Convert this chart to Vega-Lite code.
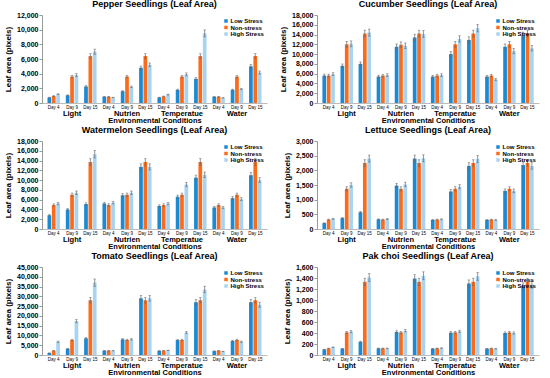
{
 "$schema": "https://vega.github.io/schema/vega-lite/v6.json",
 "padding": {"left": 4, "top": 0, "right": 2, "bottom": 0},
 "columns": 2,
 "spacing": {"row": 2, "column": 12},
 "resolve": {"legend": {"color": "independent"}},
 "datasets": {
  "pepper": [
   {"k":"Light|Day 4","s":"Low Stress","v":750,"e":40},{"k":"Light|Day 4","s":"Non-stress","v":950,"e":50},{"k":"Light|Day 4","s":"High Stress","v":1200,"e":60},
   {"k":"Light|Day 9","s":"Low Stress","v":1050,"e":60},{"k":"Light|Day 9","s":"Non-stress","v":3600,"e":180},{"k":"Light|Day 9","s":"High Stress","v":3800,"e":200},
   {"k":"Light|Day 15","s":"Low Stress","v":2250,"e":110},{"k":"Light|Day 15","s":"Non-stress","v":6400,"e":320},{"k":"Light|Day 15","s":"High Stress","v":7000,"e":350},
   {"k":"Nutrien|Day 4","s":"Low Stress","v":850,"e":45},{"k":"Nutrien|Day 4","s":"Non-stress","v":850,"e":45},{"k":"Nutrien|Day 4","s":"High Stress","v":750,"e":40},
   {"k":"Nutrien|Day 9","s":"Low Stress","v":1600,"e":80},{"k":"Nutrien|Day 9","s":"Non-stress","v":3600,"e":180},{"k":"Nutrien|Day 9","s":"High Stress","v":2200,"e":110},
   {"k":"Nutrien|Day 15","s":"Low Stress","v":4800,"e":240},{"k":"Nutrien|Day 15","s":"Non-stress","v":6400,"e":320},{"k":"Nutrien|Day 15","s":"High Stress","v":5200,"e":260},
   {"k":"Temperatue|Day 4","s":"Low Stress","v":750,"e":40},{"k":"Temperatue|Day 4","s":"Non-stress","v":900,"e":45},{"k":"Temperatue|Day 4","s":"High Stress","v":1150,"e":60},
   {"k":"Temperatue|Day 9","s":"Low Stress","v":1800,"e":90},{"k":"Temperatue|Day 9","s":"Non-stress","v":3600,"e":180},{"k":"Temperatue|Day 9","s":"High Stress","v":3900,"e":200},
   {"k":"Temperatue|Day 15","s":"Low Stress","v":3300,"e":160},{"k":"Temperatue|Day 15","s":"Non-stress","v":6400,"e":320},{"k":"Temperatue|Day 15","s":"High Stress","v":9500,"e":470},
   {"k":"Water|Day 4","s":"Low Stress","v":850,"e":45},{"k":"Water|Day 4","s":"Non-stress","v":850,"e":45},{"k":"Water|Day 4","s":"High Stress","v":700,"e":35},
   {"k":"Water|Day 9","s":"Low Stress","v":1800,"e":90},{"k":"Water|Day 9","s":"Non-stress","v":3600,"e":180},{"k":"Water|Day 9","s":"High Stress","v":1900,"e":95},
   {"k":"Water|Day 15","s":"Low Stress","v":5000,"e":250},{"k":"Water|Day 15","s":"Non-stress","v":6400,"e":320},{"k":"Water|Day 15","s":"High Stress","v":4150,"e":210}
  ],
  "cucumber": [
   {"k":"Light|Day 4","s":"Low Stress","v":5600,"e":300},{"k":"Light|Day 4","s":"Non-stress","v":5600,"e":300},{"k":"Light|Day 4","s":"High Stress","v":5900,"e":300},
   {"k":"Light|Day 9","s":"Low Stress","v":7600,"e":380},{"k":"Light|Day 9","s":"Non-stress","v":12000,"e":600},{"k":"Light|Day 9","s":"High Stress","v":12100,"e":600},
   {"k":"Light|Day 15","s":"Low Stress","v":8000,"e":400},{"k":"Light|Day 15","s":"Non-stress","v":14200,"e":700},{"k":"Light|Day 15","s":"High Stress","v":14400,"e":720},
   {"k":"Nutrien|Day 4","s":"Low Stress","v":5400,"e":270},{"k":"Nutrien|Day 4","s":"Non-stress","v":5600,"e":280},{"k":"Nutrien|Day 4","s":"High Stress","v":5700,"e":280},
   {"k":"Nutrien|Day 9","s":"Low Stress","v":11500,"e":570},{"k":"Nutrien|Day 9","s":"Non-stress","v":11900,"e":600},{"k":"Nutrien|Day 9","s":"High Stress","v":11700,"e":580},
   {"k":"Nutrien|Day 15","s":"Low Stress","v":13400,"e":670},{"k":"Nutrien|Day 15","s":"Non-stress","v":14200,"e":700},{"k":"Nutrien|Day 15","s":"High Stress","v":14100,"e":700},
   {"k":"Temperatue|Day 4","s":"Low Stress","v":5400,"e":270},{"k":"Temperatue|Day 4","s":"Non-stress","v":5600,"e":280},{"k":"Temperatue|Day 4","s":"High Stress","v":5700,"e":280},
   {"k":"Temperatue|Day 9","s":"Low Stress","v":10000,"e":500},{"k":"Temperatue|Day 9","s":"Non-stress","v":12000,"e":600},{"k":"Temperatue|Day 9","s":"High Stress","v":13100,"e":650},
   {"k":"Temperatue|Day 15","s":"Low Stress","v":12900,"e":640},{"k":"Temperatue|Day 15","s":"Non-stress","v":14200,"e":700},{"k":"Temperatue|Day 15","s":"High Stress","v":15300,"e":760},
   {"k":"Water|Day 4","s":"Low Stress","v":5400,"e":270},{"k":"Water|Day 4","s":"Non-stress","v":5600,"e":280},{"k":"Water|Day 4","s":"High Stress","v":4800,"e":240},
   {"k":"Water|Day 9","s":"Low Stress","v":11500,"e":570},{"k":"Water|Day 9","s":"Non-stress","v":12000,"e":600},{"k":"Water|Day 9","s":"High Stress","v":10600,"e":530},
   {"k":"Water|Day 15","s":"Low Stress","v":13800,"e":690},{"k":"Water|Day 15","s":"Non-stress","v":14200,"e":700},{"k":"Water|Day 15","s":"High Stress","v":11200,"e":560}
  ],
  "watermelon": [
   {"k":"Light|Day 4","s":"Low Stress","v":2800,"e":140},{"k":"Light|Day 4","s":"Non-stress","v":4900,"e":250},{"k":"Light|Day 4","s":"High Stress","v":5200,"e":260},
   {"k":"Light|Day 9","s":"Low Stress","v":4000,"e":200},{"k":"Light|Day 9","s":"Non-stress","v":7000,"e":350},{"k":"Light|Day 9","s":"High Stress","v":7400,"e":370},
   {"k":"Light|Day 15","s":"Low Stress","v":5100,"e":250},{"k":"Light|Day 15","s":"Non-stress","v":13700,"e":680},{"k":"Light|Day 15","s":"High Stress","v":15300,"e":760},
   {"k":"Nutrien|Day 4","s":"Low Stress","v":5200,"e":260},{"k":"Nutrien|Day 4","s":"Non-stress","v":4900,"e":250},{"k":"Nutrien|Day 4","s":"High Stress","v":5400,"e":270},
   {"k":"Nutrien|Day 9","s":"Low Stress","v":6900,"e":340},{"k":"Nutrien|Day 9","s":"Non-stress","v":7000,"e":350},{"k":"Nutrien|Day 9","s":"High Stress","v":7400,"e":370},
   {"k":"Nutrien|Day 15","s":"Low Stress","v":12700,"e":630},{"k":"Nutrien|Day 15","s":"Non-stress","v":13700,"e":680},{"k":"Nutrien|Day 15","s":"High Stress","v":12700,"e":630},
   {"k":"Temperatue|Day 4","s":"Low Stress","v":4700,"e":230},{"k":"Temperatue|Day 4","s":"Non-stress","v":4900,"e":250},{"k":"Temperatue|Day 4","s":"High Stress","v":5200,"e":260},
   {"k":"Temperatue|Day 9","s":"Low Stress","v":6600,"e":330},{"k":"Temperatue|Day 9","s":"Non-stress","v":7000,"e":350},{"k":"Temperatue|Day 9","s":"High Stress","v":9100,"e":450},
   {"k":"Temperatue|Day 15","s":"Low Stress","v":10500,"e":520},{"k":"Temperatue|Day 15","s":"Non-stress","v":13700,"e":680},{"k":"Temperatue|Day 15","s":"High Stress","v":11100,"e":550},
   {"k":"Water|Day 4","s":"Low Stress","v":4400,"e":220},{"k":"Water|Day 4","s":"Non-stress","v":4900,"e":250},{"k":"Water|Day 4","s":"High Stress","v":4400,"e":220},
   {"k":"Water|Day 9","s":"Low Stress","v":6300,"e":310},{"k":"Water|Day 9","s":"Non-stress","v":7000,"e":350},{"k":"Water|Day 9","s":"High Stress","v":6100,"e":300},
   {"k":"Water|Day 15","s":"Low Stress","v":11000,"e":550},{"k":"Water|Day 15","s":"Non-stress","v":13700,"e":680},{"k":"Water|Day 15","s":"High Stress","v":10000,"e":500}
  ],
  "lettuce": [
   {"k":"Light|Day 4","s":"Low Stress","v":200,"e":10},{"k":"Light|Day 4","s":"Non-stress","v":320,"e":16},{"k":"Light|Day 4","s":"High Stress","v":350,"e":18},
   {"k":"Light|Day 9","s":"Low Stress","v":370,"e":20},{"k":"Light|Day 9","s":"Non-stress","v":1370,"e":70},{"k":"Light|Day 9","s":"High Stress","v":1500,"e":75},
   {"k":"Light|Day 15","s":"Low Stress","v":570,"e":30},{"k":"Light|Day 15","s":"Non-stress","v":2250,"e":110},{"k":"Light|Day 15","s":"High Stress","v":2400,"e":120},
   {"k":"Nutrien|Day 4","s":"Low Stress","v":330,"e":16},{"k":"Nutrien|Day 4","s":"Non-stress","v":320,"e":16},{"k":"Nutrien|Day 4","s":"High Stress","v":340,"e":17},
   {"k":"Nutrien|Day 9","s":"Low Stress","v":1480,"e":75},{"k":"Nutrien|Day 9","s":"Non-stress","v":1370,"e":70},{"k":"Nutrien|Day 9","s":"High Stress","v":1520,"e":75},
   {"k":"Nutrien|Day 15","s":"Low Stress","v":2400,"e":120},{"k":"Nutrien|Day 15","s":"Non-stress","v":2250,"e":110},{"k":"Nutrien|Day 15","s":"High Stress","v":2410,"e":120},
   {"k":"Temperatue|Day 4","s":"Low Stress","v":310,"e":15},{"k":"Temperatue|Day 4","s":"Non-stress","v":320,"e":16},{"k":"Temperatue|Day 4","s":"High Stress","v":330,"e":16},
   {"k":"Temperatue|Day 9","s":"Low Stress","v":1280,"e":65},{"k":"Temperatue|Day 9","s":"Non-stress","v":1370,"e":70},{"k":"Temperatue|Day 9","s":"High Stress","v":1440,"e":70},
   {"k":"Temperatue|Day 15","s":"Low Stress","v":2150,"e":110},{"k":"Temperatue|Day 15","s":"Non-stress","v":2250,"e":110},{"k":"Temperatue|Day 15","s":"High Stress","v":2390,"e":120},
   {"k":"Water|Day 4","s":"Low Stress","v":310,"e":15},{"k":"Water|Day 4","s":"Non-stress","v":320,"e":16},{"k":"Water|Day 4","s":"High Stress","v":310,"e":15},
   {"k":"Water|Day 9","s":"Low Stress","v":1300,"e":65},{"k":"Water|Day 9","s":"Non-stress","v":1370,"e":70},{"k":"Water|Day 9","s":"High Stress","v":1300,"e":65},
   {"k":"Water|Day 15","s":"Low Stress","v":2180,"e":110},{"k":"Water|Day 15","s":"Non-stress","v":2250,"e":110},{"k":"Water|Day 15","s":"High Stress","v":2150,"e":110}
  ],
  "tomato": [
   {"k":"Light|Day 4","s":"Low Stress","v":1000,"e":50},{"k":"Light|Day 4","s":"Non-stress","v":2200,"e":110},{"k":"Light|Day 4","s":"High Stress","v":6800,"e":340},
   {"k":"Light|Day 9","s":"Low Stress","v":3200,"e":160},{"k":"Light|Day 9","s":"Non-stress","v":7700,"e":380},{"k":"Light|Day 9","s":"High Stress","v":17300,"e":860},
   {"k":"Light|Day 15","s":"Low Stress","v":8500,"e":420},{"k":"Light|Day 15","s":"Non-stress","v":28000,"e":1400},{"k":"Light|Day 15","s":"High Stress","v":37000,"e":1850},
   {"k":"Nutrien|Day 4","s":"Low Stress","v":2200,"e":110},{"k":"Nutrien|Day 4","s":"Non-stress","v":2200,"e":110},{"k":"Nutrien|Day 4","s":"High Stress","v":2200,"e":110},
   {"k":"Nutrien|Day 9","s":"Low Stress","v":8000,"e":400},{"k":"Nutrien|Day 9","s":"Non-stress","v":7700,"e":380},{"k":"Nutrien|Day 9","s":"High Stress","v":8000,"e":400},
   {"k":"Nutrien|Day 15","s":"Low Stress","v":29000,"e":1450},{"k":"Nutrien|Day 15","s":"Non-stress","v":28000,"e":1400},{"k":"Nutrien|Day 15","s":"High Stress","v":29000,"e":1450},
   {"k":"Temperatue|Day 4","s":"Low Stress","v":2100,"e":100},{"k":"Temperatue|Day 4","s":"Non-stress","v":2200,"e":110},{"k":"Temperatue|Day 4","s":"High Stress","v":2400,"e":120},
   {"k":"Temperatue|Day 9","s":"Low Stress","v":7600,"e":380},{"k":"Temperatue|Day 9","s":"Non-stress","v":7700,"e":380},{"k":"Temperatue|Day 9","s":"High Stress","v":11500,"e":570},
   {"k":"Temperatue|Day 15","s":"Low Stress","v":27000,"e":1350},{"k":"Temperatue|Day 15","s":"Non-stress","v":28000,"e":1400},{"k":"Temperatue|Day 15","s":"High Stress","v":33500,"e":1670},
   {"k":"Water|Day 4","s":"Low Stress","v":2000,"e":100},{"k":"Water|Day 4","s":"Non-stress","v":2200,"e":110},{"k":"Water|Day 4","s":"High Stress","v":1800,"e":90},
   {"k":"Water|Day 9","s":"Low Stress","v":7200,"e":360},{"k":"Water|Day 9","s":"Non-stress","v":7700,"e":380},{"k":"Water|Day 9","s":"High Stress","v":6800,"e":340},
   {"k":"Water|Day 15","s":"Low Stress","v":27000,"e":1350},{"k":"Water|Day 15","s":"Non-stress","v":28000,"e":1400},{"k":"Water|Day 15","s":"High Stress","v":25700,"e":1280}
  ],
  "pakchoi": [
   {"k":"Light|Day 4","s":"Low Stress","v":100,"e":5},{"k":"Light|Day 4","s":"Non-stress","v":120,"e":6},{"k":"Light|Day 4","s":"High Stress","v":140,"e":7},
   {"k":"Light|Day 9","s":"Low Stress","v":115,"e":6},{"k":"Light|Day 9","s":"Non-stress","v":410,"e":20},{"k":"Light|Day 9","s":"High Stress","v":425,"e":21},
   {"k":"Light|Day 15","s":"Low Stress","v":240,"e":12},{"k":"Light|Day 15","s":"Non-stress","v":1330,"e":66},{"k":"Light|Day 15","s":"High Stress","v":1410,"e":70},
   {"k":"Nutrien|Day 4","s":"Low Stress","v":120,"e":6},{"k":"Nutrien|Day 4","s":"Non-stress","v":120,"e":6},{"k":"Nutrien|Day 4","s":"High Stress","v":120,"e":6},
   {"k":"Nutrien|Day 9","s":"Low Stress","v":420,"e":21},{"k":"Nutrien|Day 9","s":"Non-stress","v":410,"e":20},{"k":"Nutrien|Day 9","s":"High Stress","v":440,"e":22},
   {"k":"Nutrien|Day 15","s":"Low Stress","v":1390,"e":70},{"k":"Nutrien|Day 15","s":"Non-stress","v":1330,"e":66},{"k":"Nutrien|Day 15","s":"High Stress","v":1440,"e":72},
   {"k":"Temperatue|Day 4","s":"Low Stress","v":115,"e":6},{"k":"Temperatue|Day 4","s":"Non-stress","v":120,"e":6},{"k":"Temperatue|Day 4","s":"High Stress","v":125,"e":6},
   {"k":"Temperatue|Day 9","s":"Low Stress","v":405,"e":20},{"k":"Temperatue|Day 9","s":"Non-stress","v":410,"e":20},{"k":"Temperatue|Day 9","s":"High Stress","v":430,"e":21},
   {"k":"Temperatue|Day 15","s":"Low Stress","v":1300,"e":65},{"k":"Temperatue|Day 15","s":"Non-stress","v":1330,"e":66},{"k":"Temperatue|Day 15","s":"High Stress","v":1430,"e":71},
   {"k":"Water|Day 4","s":"Low Stress","v":115,"e":6},{"k":"Water|Day 4","s":"Non-stress","v":120,"e":6},{"k":"Water|Day 4","s":"High Stress","v":115,"e":6},
   {"k":"Water|Day 9","s":"Low Stress","v":400,"e":20},{"k":"Water|Day 9","s":"Non-stress","v":410,"e":20},{"k":"Water|Day 9","s":"High Stress","v":400,"e":20},
   {"k":"Water|Day 15","s":"Low Stress","v":1250,"e":62},{"k":"Water|Day 15","s":"Non-stress","v":1330,"e":66},{"k":"Water|Day 15","s":"High Stress","v":1280,"e":64}
  ]
 },
 "concat": [
  {
   "title": "Pepper Seedlings (Leaf Area)",
   "data": {"name": "pepper"},
   "width": 225, "height": 88,
   "encoding": {
    "xOffset": {"field": "s", "type": "nominal", "scale": {"domain": ["Low Stress","Non-stress","High Stress"], "paddingInner": 0.15}},
    "y": {"field": "v", "type": "quantitative", "title": "Leaf area (pixels)", "scale": {"domain": [0, 12000]}, "axis": {"values": [0,2000,4000,6000,8000,10000,12000], "format": ",.0f"}}
   },
   "layer": [
    {"mark": {"type": "bar"},
     "encoding": {
      "x": {"field": "k", "type": "nominal", "title": null, "scale": {"domain": ["Light|Day 4","Light|Day 9","Light|Day 15","Nutrien|Day 4","Nutrien|Day 9","Nutrien|Day 15","Temperatue|Day 4","Temperatue|Day 9","Temperatue|Day 15","Water|Day 4","Water|Day 9","Water|Day 15"], "paddingInner": 0.32, "paddingOuter": 0.3},
       "axis": {"orient": "bottom", "labelExpr": "split(datum.label,'|')[1]", "labelFontSize": 4.5, "labelAngle": 0, "ticks": false, "domainColor": "#bbb", "labelPadding": 1, "labelOverlap": false}},
      "color": {"field": "s", "type": "nominal", "scale": {"domain": ["Low Stress","Non-stress","High Stress"], "range": ["#1a8ad4","#fb6b1b","#a8d4f2"]}, "legend": {"title": null}}
     }},
    {"mark": {"type": "errorbar", "ticks": {"size": 2.5}, "color": "#666", "thickness": 0.7},
     "encoding": {
      "x": {"field": "k", "type": "nominal", "title": "Environmental Conditions", "scale": {"domain": ["Light|Day 4","Light|Day 9","Light|Day 15","Nutrien|Day 4","Nutrien|Day 9","Nutrien|Day 15","Temperatue|Day 4","Temperatue|Day 9","Temperatue|Day 15","Water|Day 4","Water|Day 9","Water|Day 15"], "paddingInner": 0.32, "paddingOuter": 0.3},
       "axis": {"orient": "bottom", "values": ["Light|Day 9","Nutrien|Day 9","Temperatue|Day 9","Water|Day 9"], "labelExpr": "split(datum.label,'|')[0]", "labelFontSize": 7.5, "labelFontWeight": "bold", "labelAngle": 0, "ticks": false, "domain": false, "labelPadding": 6, "labelOverlap": false, "titleFontSize": 7.5, "titleFontWeight": "bold", "titlePadding": 0}},
      "yError": {"field": "e"}
     }}
   ],
   "resolve": {"axis": {"x": "independent"}}
  },
  {
   "title": "Cucumber Seedlings (Leaf Area)",
   "data": {"name": "cucumber"},
   "width": 222, "height": 88,
   "encoding": {
    "xOffset": {"field": "s", "type": "nominal", "scale": {"domain": ["Low Stress","Non-stress","High Stress"], "paddingInner": 0.15}},
    "y": {"field": "v", "type": "quantitative", "title": "Leaf area (pixels)", "scale": {"domain": [0, 18000]}, "axis": {"values": [0,2000,4000,6000,8000,10000,12000,14000,16000,18000], "format": ",.0f"}}
   },
   "layer": [
    {"mark": {"type": "bar"},
     "encoding": {
      "x": {"field": "k", "type": "nominal", "title": null, "scale": {"domain": ["Light|Day 4","Light|Day 9","Light|Day 15","Nutrien|Day 4","Nutrien|Day 9","Nutrien|Day 15","Temperatue|Day 4","Temperatue|Day 9","Temperatue|Day 15","Water|Day 4","Water|Day 9","Water|Day 15"], "paddingInner": 0.32, "paddingOuter": 0.3},
       "axis": {"orient": "bottom", "labelExpr": "split(datum.label,'|')[1]", "labelFontSize": 4.5, "labelAngle": 0, "ticks": false, "domainColor": "#bbb", "labelPadding": 1, "labelOverlap": false}},
      "color": {"field": "s", "type": "nominal", "scale": {"domain": ["Low Stress","Non-stress","High Stress"], "range": ["#1a8ad4","#fb6b1b","#a8d4f2"]}, "legend": {"title": null}}
     }},
    {"mark": {"type": "errorbar", "ticks": {"size": 2.5}, "color": "#666", "thickness": 0.7},
     "encoding": {
      "x": {"field": "k", "type": "nominal", "title": "Environmental Conditions", "scale": {"domain": ["Light|Day 4","Light|Day 9","Light|Day 15","Nutrien|Day 4","Nutrien|Day 9","Nutrien|Day 15","Temperatue|Day 4","Temperatue|Day 9","Temperatue|Day 15","Water|Day 4","Water|Day 9","Water|Day 15"], "paddingInner": 0.32, "paddingOuter": 0.3},
       "axis": {"orient": "bottom", "values": ["Light|Day 9","Nutrien|Day 9","Temperatue|Day 9","Water|Day 9"], "labelExpr": "split(datum.label,'|')[0]", "labelFontSize": 7.5, "labelFontWeight": "bold", "labelAngle": 0, "ticks": false, "domain": false, "labelPadding": 6, "labelOverlap": false, "titleFontSize": 7.5, "titleFontWeight": "bold", "titlePadding": 0}},
      "yError": {"field": "e"}
     }}
   ],
   "resolve": {"axis": {"x": "independent"}}
  },
  {
   "title": "Watermelon Seedlings (Leaf Area)",
   "data": {"name": "watermelon"},
   "width": 225, "height": 88,
   "encoding": {
    "xOffset": {"field": "s", "type": "nominal", "scale": {"domain": ["Low Stress","Non-stress","High Stress"], "paddingInner": 0.15}},
    "y": {"field": "v", "type": "quantitative", "title": "Leaf area (pixels)", "scale": {"domain": [0, 18000]}, "axis": {"values": [0,2000,4000,6000,8000,10000,12000,14000,16000,18000], "format": ",.0f"}}
   },
   "layer": [
    {"mark": {"type": "bar"},
     "encoding": {
      "x": {"field": "k", "type": "nominal", "title": null, "scale": {"domain": ["Light|Day 4","Light|Day 9","Light|Day 15","Nutrien|Day 4","Nutrien|Day 9","Nutrien|Day 15","Temperatue|Day 4","Temperatue|Day 9","Temperatue|Day 15","Water|Day 4","Water|Day 9","Water|Day 15"], "paddingInner": 0.32, "paddingOuter": 0.3},
       "axis": {"orient": "bottom", "labelExpr": "split(datum.label,'|')[1]", "labelFontSize": 4.5, "labelAngle": 0, "ticks": false, "domainColor": "#bbb", "labelPadding": 1, "labelOverlap": false}},
      "color": {"field": "s", "type": "nominal", "scale": {"domain": ["Low Stress","Non-stress","High Stress"], "range": ["#1a8ad4","#fb6b1b","#a8d4f2"]}, "legend": {"title": null}}
     }},
    {"mark": {"type": "errorbar", "ticks": {"size": 2.5}, "color": "#666", "thickness": 0.7},
     "encoding": {
      "x": {"field": "k", "type": "nominal", "title": "Environmental Conditions", "scale": {"domain": ["Light|Day 4","Light|Day 9","Light|Day 15","Nutrien|Day 4","Nutrien|Day 9","Nutrien|Day 15","Temperatue|Day 4","Temperatue|Day 9","Temperatue|Day 15","Water|Day 4","Water|Day 9","Water|Day 15"], "paddingInner": 0.32, "paddingOuter": 0.3},
       "axis": {"orient": "bottom", "values": ["Light|Day 9","Nutrien|Day 9","Temperatue|Day 9","Water|Day 9"], "labelExpr": "split(datum.label,'|')[0]", "labelFontSize": 7.5, "labelFontWeight": "bold", "labelAngle": 0, "ticks": false, "domain": false, "labelPadding": 6, "labelOverlap": false, "titleFontSize": 7.5, "titleFontWeight": "bold", "titlePadding": 0}},
      "yError": {"field": "e"}
     }}
   ],
   "resolve": {"axis": {"x": "independent"}}
  },
  {
   "title": "Lettuce Seedlings (Leaf Area)",
   "data": {"name": "lettuce"},
   "width": 222, "height": 88,
   "encoding": {
    "xOffset": {"field": "s", "type": "nominal", "scale": {"domain": ["Low Stress","Non-stress","High Stress"], "paddingInner": 0.15}},
    "y": {"field": "v", "type": "quantitative", "title": "Leaf area (pixels)", "scale": {"domain": [0, 3000]}, "axis": {"values": [0,500,1000,1500,2000,2500,3000], "format": ",.0f"}}
   },
   "layer": [
    {"mark": {"type": "bar"},
     "encoding": {
      "x": {"field": "k", "type": "nominal", "title": null, "scale": {"domain": ["Light|Day 4","Light|Day 9","Light|Day 15","Nutrien|Day 4","Nutrien|Day 9","Nutrien|Day 15","Temperatue|Day 4","Temperatue|Day 9","Temperatue|Day 15","Water|Day 4","Water|Day 9","Water|Day 15"], "paddingInner": 0.32, "paddingOuter": 0.3},
       "axis": {"orient": "bottom", "labelExpr": "split(datum.label,'|')[1]", "labelFontSize": 4.5, "labelAngle": 0, "ticks": false, "domainColor": "#bbb", "labelPadding": 1, "labelOverlap": false}},
      "color": {"field": "s", "type": "nominal", "scale": {"domain": ["Low Stress","Non-stress","High Stress"], "range": ["#1a8ad4","#fb6b1b","#a8d4f2"]}, "legend": {"title": null}}
     }},
    {"mark": {"type": "errorbar", "ticks": {"size": 2.5}, "color": "#666", "thickness": 0.7},
     "encoding": {
      "x": {"field": "k", "type": "nominal", "title": "Environmental Conditions", "scale": {"domain": ["Light|Day 4","Light|Day 9","Light|Day 15","Nutrien|Day 4","Nutrien|Day 9","Nutrien|Day 15","Temperatue|Day 4","Temperatue|Day 9","Temperatue|Day 15","Water|Day 4","Water|Day 9","Water|Day 15"], "paddingInner": 0.32, "paddingOuter": 0.3},
       "axis": {"orient": "bottom", "values": ["Light|Day 9","Nutrien|Day 9","Temperatue|Day 9","Water|Day 9"], "labelExpr": "split(datum.label,'|')[0]", "labelFontSize": 7.5, "labelFontWeight": "bold", "labelAngle": 0, "ticks": false, "domain": false, "labelPadding": 6, "labelOverlap": false, "titleFontSize": 7.5, "titleFontWeight": "bold", "titlePadding": 0}},
      "yError": {"field": "e"}
     }}
   ],
   "resolve": {"axis": {"x": "independent"}}
  },
  {
   "title": "Tomato Seedlings (Leaf Area)",
   "data": {"name": "tomato"},
   "width": 225, "height": 88,
   "encoding": {
    "xOffset": {"field": "s", "type": "nominal", "scale": {"domain": ["Low Stress","Non-stress","High Stress"], "paddingInner": 0.15}},
    "y": {"field": "v", "type": "quantitative", "title": "Leaf area (pixels)", "scale": {"domain": [0, 45000]}, "axis": {"values": [0,5000,10000,15000,20000,25000,30000,35000,40000,45000], "format": ",.0f"}}
   },
   "layer": [
    {"mark": {"type": "bar"},
     "encoding": {
      "x": {"field": "k", "type": "nominal", "title": null, "scale": {"domain": ["Light|Day 4","Light|Day 9","Light|Day 15","Nutrien|Day 4","Nutrien|Day 9","Nutrien|Day 15","Temperatue|Day 4","Temperatue|Day 9","Temperatue|Day 15","Water|Day 4","Water|Day 9","Water|Day 15"], "paddingInner": 0.32, "paddingOuter": 0.3},
       "axis": {"orient": "bottom", "labelExpr": "split(datum.label,'|')[1]", "labelFontSize": 4.5, "labelAngle": 0, "ticks": false, "domainColor": "#bbb", "labelPadding": 1, "labelOverlap": false}},
      "color": {"field": "s", "type": "nominal", "scale": {"domain": ["Low Stress","Non-stress","High Stress"], "range": ["#1a8ad4","#fb6b1b","#a8d4f2"]}, "legend": {"title": null}}
     }},
    {"mark": {"type": "errorbar", "ticks": {"size": 2.5}, "color": "#666", "thickness": 0.7},
     "encoding": {
      "x": {"field": "k", "type": "nominal", "title": "Environmental Conditions", "scale": {"domain": ["Light|Day 4","Light|Day 9","Light|Day 15","Nutrien|Day 4","Nutrien|Day 9","Nutrien|Day 15","Temperatue|Day 4","Temperatue|Day 9","Temperatue|Day 15","Water|Day 4","Water|Day 9","Water|Day 15"], "paddingInner": 0.32, "paddingOuter": 0.3},
       "axis": {"orient": "bottom", "values": ["Light|Day 9","Nutrien|Day 9","Temperatue|Day 9","Water|Day 9"], "labelExpr": "split(datum.label,'|')[0]", "labelFontSize": 7.5, "labelFontWeight": "bold", "labelAngle": 0, "ticks": false, "domain": false, "labelPadding": 6, "labelOverlap": false, "titleFontSize": 7.5, "titleFontWeight": "bold", "titlePadding": 0}},
      "yError": {"field": "e"}
     }}
   ],
   "resolve": {"axis": {"x": "independent"}}
  },
  {
   "title": "Pak choi Seedlings (Leaf Area)",
   "data": {"name": "pakchoi"},
   "width": 222, "height": 88,
   "encoding": {
    "xOffset": {"field": "s", "type": "nominal", "scale": {"domain": ["Low Stress","Non-stress","High Stress"], "paddingInner": 0.15}},
    "y": {"field": "v", "type": "quantitative", "title": "Leaf area (pixels)", "scale": {"domain": [0, 1600]}, "axis": {"values": [0,200,400,600,800,1000,1200,1400,1600], "format": ",.0f"}}
   },
   "layer": [
    {"mark": {"type": "bar"},
     "encoding": {
      "x": {"field": "k", "type": "nominal", "title": null, "scale": {"domain": ["Light|Day 4","Light|Day 9","Light|Day 15","Nutrien|Day 4","Nutrien|Day 9","Nutrien|Day 15","Temperatue|Day 4","Temperatue|Day 9","Temperatue|Day 15","Water|Day 4","Water|Day 9","Water|Day 15"], "paddingInner": 0.32, "paddingOuter": 0.3},
       "axis": {"orient": "bottom", "labelExpr": "split(datum.label,'|')[1]", "labelFontSize": 4.5, "labelAngle": 0, "ticks": false, "domainColor": "#bbb", "labelPadding": 1, "labelOverlap": false}},
      "color": {"field": "s", "type": "nominal", "scale": {"domain": ["Low Stress","Non-stress","High Stress"], "range": ["#1a8ad4","#fb6b1b","#a8d4f2"]}, "legend": {"title": null}}
     }},
    {"mark": {"type": "errorbar", "ticks": {"size": 2.5}, "color": "#666", "thickness": 0.7},
     "encoding": {
      "x": {"field": "k", "type": "nominal", "title": "Environmental Conditions", "scale": {"domain": ["Light|Day 4","Light|Day 9","Light|Day 15","Nutrien|Day 4","Nutrien|Day 9","Nutrien|Day 15","Temperatue|Day 4","Temperatue|Day 9","Temperatue|Day 15","Water|Day 4","Water|Day 9","Water|Day 15"], "paddingInner": 0.32, "paddingOuter": 0.3},
       "axis": {"orient": "bottom", "values": ["Light|Day 9","Nutrien|Day 9","Temperatue|Day 9","Water|Day 9"], "labelExpr": "split(datum.label,'|')[0]", "labelFontSize": 7.5, "labelFontWeight": "bold", "labelAngle": 0, "ticks": false, "domain": false, "labelPadding": 6, "labelOverlap": false, "titleFontSize": 7.5, "titleFontWeight": "bold", "titlePadding": 0}},
      "yError": {"field": "e"}
     }}
   ],
   "resolve": {"axis": {"x": "independent"}}
  }
 ],
 "config": {
  "font": "Liberation Sans",
  "background": "#ffffff",
  "view": {"stroke": null},
  "title": {"fontSize": 9, "fontWeight": "bold", "color": "#000", "offset": 2, "font": "Liberation Sans"},
  "axis": {"grid": false, "labelColor": "#000", "titleColor": "#000", "labelFont": "Liberation Sans", "titleFont": "Liberation Sans"},
  "axisY": {"labelFontSize": 7, "labelFontWeight": "bold", "titleFontSize": 8, "titleFontWeight": "bold", "domainColor": "#999", "tickColor": "#999", "tickSize": 3, "labelPadding": 1, "titlePadding": 4},
  "legend": {"orient": "top-right", "offset": 3, "symbolType": "square", "symbolSize": 12, "labelFontSize": 6, "labelFontWeight": "bold", "rowPadding": 0.5, "labelOffset": 1.5, "padding": 0, "symbolStrokeWidth": 0, "labelFont": "Liberation Sans"}
 }
}
